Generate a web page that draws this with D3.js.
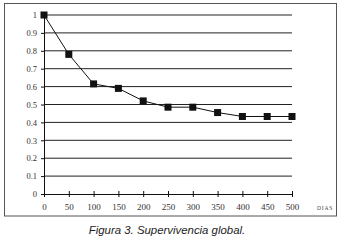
<!DOCTYPE html>
<html><head><meta charset="utf-8">
<script src="https://cdn.jsdelivr.net/npm/d3@7"></script>
<style>body{margin:0;background:#fff}svg{display:block}</style>
</head><body><svg id="c" width="342" height="245"></svg>
<script>
const days = [0,50,100,150,200,250,300,350,400,450,500];
const survival = [1,0.78,0.615,0.59,0.52,0.485,0.485,0.455,0.433,0.433,0.433];
const yTicks = [0,0.1,0.2,0.3,0.4,0.5,0.6,0.7,0.8,0.9,1];
const yTickLabels = ["0","0.1","0.2","0.3","0.4","0.5","0.6","0.7","0.8","0.9","1"];
const xTicks = [0,50,100,150,200,250,300,350,400,450,500];
const xLabel = "DIAS";
const caption = "Figura 3. Supervivencia global.";

const svg = d3.select("#c");
const x = d3.scaleLinear().domain([0,500]).range([44,292]);
const y = d3.scaleLinear().domain([0,1]).range([194,15]);

svg.append("rect").attr("x",4.5).attr("y",3.5).attr("width",332).attr("height",212.5)
  .attr("fill","none").attr("stroke","#555").attr("stroke-width",1);

// gridlines
svg.append("g").selectAll("line").data(yTicks.filter(d=>d>0)).join("line")
  .attr("x1",x(0)).attr("x2",x(500)).attr("y1",d=>y(d)).attr("y2",d=>y(d))
  .attr("stroke","#222").attr("stroke-width",1);

// y axis
const ya = svg.append("g").attr("transform",`translate(${x(0)},0)`)
  .call(d3.axisLeft(y).tickValues(yTicks).tickFormat((d,i)=>yTickLabels[i]).tickSize(3).tickPadding(4));
ya.select(".domain").attr("stroke","#111");
ya.selectAll("line").attr("stroke","#111");
ya.selectAll("text").attr("font-family","Liberation Serif").attr("font-size",8.5).attr("fill","#333");

// x axis
const xa = svg.append("g").attr("transform",`translate(0,${y(0)})`)
  .call(d3.axisBottom(x).tickValues(xTicks).tickFormat(d3.format("d")).tickSizeInner(-3).tickSizeOuter(0).tickPadding(9.5));
xa.select(".domain").attr("stroke","#111");
xa.selectAll(".tick line").attr("stroke","#111").attr("y1",3).attr("y2",-3);
xa.selectAll("text").attr("font-family","Liberation Serif").attr("font-size",9).attr("fill","#333");

svg.append("text").attr("x",317).attr("y",210).text(xLabel)
  .attr("font-family","Liberation Serif").attr("font-size",5.5).attr("letter-spacing",0.8).attr("fill","#444");

// line
svg.append("path").datum(days.map((d,i)=>[d,survival[i]]))
  .attr("d",d3.line().x(d=>x(d[0])).y(d=>y(d[1])))
  .attr("fill","none").attr("stroke","#111").attr("stroke-width",1);

svg.append("g").selectAll("rect").data(days.map((d,i)=>[d,survival[i]])).join("rect")
  .attr("x",d=>x(d[0])-3.5).attr("y",d=>y(d[1])-3.5).attr("width",7).attr("height",7).attr("fill","#111");

svg.append("text").attr("x",167).attr("y",234).attr("text-anchor","middle").text(caption)
  .attr("font-family","Liberation Sans").attr("font-style","italic").attr("font-size",11.4).attr("fill","#222");
</script></body></html>
